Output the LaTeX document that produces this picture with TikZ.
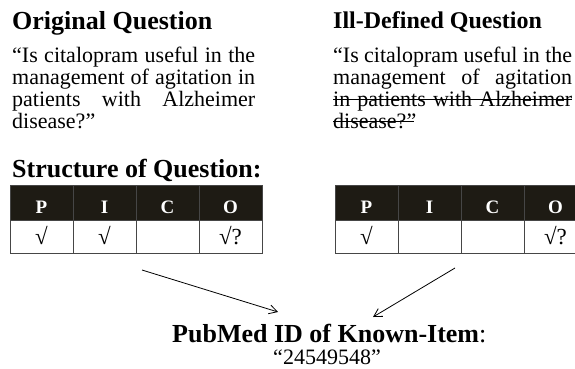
\documentclass[tikz,border=0pt]{standalone}
\usepackage{fontspec}
\setmainfont{Liberation Serif}
\usetikzlibrary{arrows.meta}
\definecolor{hdr}{RGB}{30,27,20}
\definecolor{grid}{RGB}{70,70,70}
\tikzset{
  title/.style={anchor=base west, inner sep=0, font=\fontsize{26}{28}\selectfont\bfseries},
  body/.style={anchor=base west, inner sep=0},
  hcell/.style={draw=grid, line width=0.9pt, fill=hdr, minimum width=63pt, minimum height=35pt, inner sep=0},
  bcell/.style={draw=grid, line width=0.9pt, fill=white, minimum width=63pt, minimum height=33pt, inner sep=0},
  hlabel/.style={anchor=base, inner sep=0, text=white, font=\fontsize{19}{20}\selectfont\bfseries},
  blabel/.style={anchor=base, inner sep=0, font=\fontsize{23}{23}\selectfont},
  arr/.style={line width=0.8pt, -{Straight Barb[length=8pt,width=9pt]}},
  strike/.style={line width=1.1pt}
}
\newcommand\bodytext[2]{\parbox[t]{#1}{\fontsize{22}{22}\selectfont\tolerance=10000\hbadness=10000\hyphenpenalty=10000 #2}}
\begin{document}
\begin{tikzpicture}[x=1pt,y=-1pt]
\useasboundingbox (0,0) rectangle (575,368);
% titles
\node[title] (t1) at (12,29) {Original Question};
\node[title, font=\fontsize{24}{26}\selectfont\bfseries] (t2) at (333,28) {Ill-Defined Question};
% bodies
\node[body] (q1) at (12,62) {\bodytext{243pt}{“Is citalopram useful in the\linebreak management of agitation in\linebreak patients with Alzheimer\linebreak disease?”}};
\node[body] (q2) at (333,62) {\bodytext{239pt}{“Is citalopram useful in the\linebreak management of agitation\linebreak in patients with Alzheimer\linebreak disease?”}};
\coordinate (s1a) at (333,99.5);
\coordinate (s1b) at (572,99.5);
\coordinate (s2a) at (333,121.5);
\coordinate (s2b) at (414,121.5);
\draw[strike] (s1a) -- (s1b);
\draw[strike] (s2a) -- (s2b);
% structure title
\node[title] (st) at (12,177) {Structure of Question:};
% left table
\node[hcell] (lP) at (41.5,202.5) {};
\node[hcell] (lI) at (104.5,202.5) {};
\node[hcell] (lC) at (167.5,202.5) {};
\node[hcell] (lO) at (230.5,202.5) {};
\node[bcell] (lp) at (41.5,236.5) {};
\node[bcell] (li) at (104.5,236.5) {};
\node[bcell] (lc) at (167.5,236.5) {};
\node[bcell] (lo) at (230.5,236.5) {};
\node[hlabel] at (41.5,213) {P};
\node[hlabel] at (104.5,213) {I};
\node[hlabel] at (167.5,213) {C};
\node[hlabel] at (230.5,213) {O};
\node[blabel] at (41.5,244) {√};
\node[blabel] at (104.5,244) {√};
\node[blabel] at (230.5,244) {√?};
% right table
\node[hcell] (rP) at (366.5,202.5) {};
\node[hcell] (rI) at (429.5,202.5) {};
\node[hcell] (rC) at (492.5,202.5) {};
\node[hcell] (rO) at (555.5,202.5) {};
\node[bcell] (rp) at (366.5,236.5) {};
\node[bcell] (ri) at (429.5,236.5) {};
\node[bcell] (rc) at (492.5,236.5) {};
\node[bcell] (ro) at (555.5,236.5) {};
\node[hlabel] at (366.5,213) {P};
\node[hlabel] at (429.5,213) {I};
\node[hlabel] at (492.5,213) {C};
\node[hlabel] at (555.5,213) {O};
\node[blabel] at (366.5,244) {√};
\node[blabel] at (555.5,244) {√?};
% result
\node[anchor=base west, inner sep=0, font=\fontsize{26}{28}\selectfont] (pm) at (172,342) {\textbf{PubMed ID of Known-Item}:};
\node[anchor=base, inner sep=0, font=\fontsize{22}{22}\selectfont] (id) at (327,364) {“24549548”};
% arrows
\coordinate (a1s) at (142,270);
\coordinate (a1e) at (278,312);
\coordinate (a2s) at (455,268);
\coordinate (a2e) at (373,317);
\draw[arr] (a1s) -- (a1e);
\draw[arr] (a2s) -- (a2e);
\end{tikzpicture}
\end{document}
